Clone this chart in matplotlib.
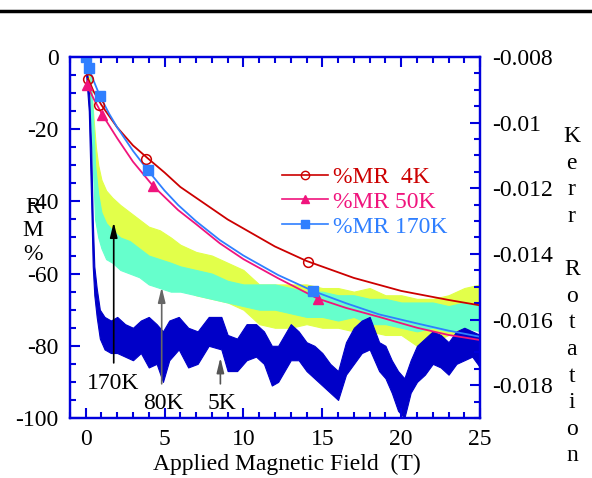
import matplotlib
matplotlib.use('Agg')
import matplotlib.pyplot as plt
from matplotlib.lines import Line2D
from matplotlib.ticker import MultipleLocator, FuncFormatter
import numpy as np

plt.rcParams['font.family'] = ['Liberation Serif', 'DejaVu Serif']
plt.rcParams['axes.unicode_minus'] = False

# --- %MR fitted curves (left axis) ---
fit_4k_x = [0.15, 0.5, 1, 2, 3, 4, 5, 6, 7, 8, 9, 10, 11, 12, 14, 17, 20, 23, 25]
fit_4k_y = [-6, -9.5, -13.3, -19.5, -24.5, -28.3, -32, -36, -39, -42, -45, -47.5,
            -50, -52.5, -56.5, -61.2, -64.8, -67.3, -68.8]
fit_50k_x = [0.1, 0.5, 1.06, 2, 3, 4.25, 5.86, 7, 8.5, 10, 12.2, 14.7, 16.5, 18.6, 21, 23, 25]
fit_50k_y = [-7.8, -11.5, -16, -22.5, -29, -35.6, -42.4, -46.3, -51.6, -56, -61.3,
             -66.9, -69.5, -72, -75, -77, -78.4]
fit_170k_x = [0, 0.2, 0.5, 0.9, 1.5, 2, 3, 3.93, 5, 5.86, 7, 8.5, 10, 12.2, 14.4,
              16.5, 18.6, 21, 23, 25]
fit_170k_y = [-0.1, -3.1, -6.5, -10.8, -15.8, -19.5, -26, -31.3, -37, -41, -45.5,
              -50.7, -55, -60.4, -64.8, -68.2, -71.3, -73.8, -75.8, -77.5]

# measured %MR points
pts_4k_x = [0.15, 0.85, 3.8, 14.1]
pts_4k_y = [-6.1, -13.3, -28.3, -56.8]
pts_50k_x = [0.1, 1.06, 4.25, 14.7]
pts_50k_y = [-7.8, -16, -35.6, -66.9]
pts_170k_x = [0.04, 0.2, 0.9, 3.93, 14.4]
pts_170k_y = [-0.1, -3.1, -10.8, -31.3, -64.8]

# --- Kerr rotation traces (right axis), values in units of 1e-3 ---
kerr_5k_x = [0, 0.2, 0.35, 0.45, 0.55, 0.7, 0.9, 1.2, 1.6, 2.0, 2.5, 3.0, 3.5, 4.0,
             4.5, 4.9, 5.3, 5.9, 6.5, 7.1, 7.8, 8.6, 9.0, 9.6, 10.2, 10.8, 11.3,
             11.8, 12.2, 12.6, 13.0, 13.5, 14.0, 14.5, 15.0, 15.5, 16.0, 16.5,
             17.0, 17.5, 18.0, 18.6, 19.0, 19.4, 19.8, 20.2, 20.6, 21.0, 21.5,
             22.0, 22.5, 23.0, 23.5, 24.0, 24.5, 25.0]
kerr_5k_hi = [-8.11, -8.88, -10.75, -12.95, -14.38, -15.04, -15.70, -15.92, -16.03,
              -15.92, -16.14, -16.25, -16.03, -15.92, -16.14, -16.36, -16.03, -15.92,
              -16.25, -16.36, -15.92, -15.92, -16.47, -16.58, -16.14, -16.14, -16.36,
              -16.80, -16.80, -16.47, -16.14, -16.36, -16.69, -16.80, -17.02, -17.35,
              -17.57, -16.69, -16.25, -16.03, -15.92, -16.69, -16.80, -17.24, -17.57,
              -17.79, -17.24, -16.80, -16.58, -16.36, -16.47, -16.69, -16.36, -16.25,
              -16.36, -16.47]
kerr_5k_lo = [-8.33, -9.65, -12.40, -14.38, -15.26, -15.92, -16.58, -16.91, -17.02,
              -17.02, -17.13, -17.24, -17.02, -17.46, -17.35, -17.90, -17.24, -16.91,
              -17.46, -17.35, -16.80, -16.91, -17.57, -17.57, -17.24, -17.13, -17.35,
              -18.01, -17.90, -17.57, -17.24, -17.24, -17.57, -17.79, -18.01, -18.23,
              -18.45, -17.68, -17.35, -17.02, -16.91, -17.57, -17.79, -18.23, -18.78,
              -19.00, -18.23, -17.90, -17.68, -17.35, -17.46, -17.68, -17.35, -17.24,
              -17.13, -17.46]

kerr_170k_x = [0.2, 0.35, 0.5, 0.65, 0.8, 1.0, 1.3, 1.7, 2.2, 2.8, 3.4, 4.0, 4.7, 5.4,
               6.0, 7.0, 8.0, 9.0, 10.0, 11.0, 12.0, 13.0, 14.0, 15.0, 16.0, 17.0,
               18.0, 19.0, 20.0, 21.0, 22.0, 23.0, 24.0, 25.0]
kerr_170k_hi = [-8.22, -8.88, -9.87, -10.75, -11.30, -11.74, -12.07, -12.29, -12.51,
                -12.73, -12.95, -13.17, -13.28, -13.50, -13.72, -13.94, -14.05, -14.27,
                -14.49, -14.93, -14.93, -14.93, -14.93, -15.04, -15.04, -15.15, -15.04,
                -15.26, -15.26, -15.37, -15.37, -15.26, -15.04, -14.93]
kerr_170k_lo = [-8.66, -9.76, -11.30, -12.18, -12.62, -12.95, -13.28, -13.50, -13.72,
                -13.94, -14.16, -14.38, -14.60, -14.82, -15.04, -15.26, -15.37, -15.48,
                -15.70, -16.14, -16.25, -16.25, -16.14, -16.25, -16.25, -16.36, -16.36,
                -16.47, -16.47, -16.80, -16.69, -16.47, -16.36, -16.14]

kerr_80k_x = [0.3, 0.45, 0.6, 0.8, 1.0, 1.3, 1.7, 2.2, 2.8, 3.4, 4.0, 4.7, 5.4, 6.0,
              7.0, 8.0, 9.0, 10.0, 11.0, 12.0, 13.0, 14.0, 15.0, 16.0, 17.0, 18.0,
              19.0, 20.0, 21.0, 22.0, 23.0, 24.0, 25.0]
kerr_80k_hi = [-8.55, -9.65, -11.30, -12.18, -12.73, -13.06, -13.28, -13.50, -13.61,
               -13.83, -14.05, -14.16, -14.27, -14.38, -14.49, -14.60, -14.82, -14.93,
               -14.93, -14.93, -15.04, -15.15, -15.15, -15.26, -15.26, -15.37, -15.37,
               -15.48, -15.48, -15.48, -15.59, -15.48, -15.59]
kerr_80k_lo = [-9.32, -11.30, -12.95, -13.50, -13.83, -14.16, -14.27, -14.49, -14.60,
               -14.71, -14.93, -15.04, -15.15, -15.15, -15.26, -15.37, -15.48, -15.59,
               -15.70, -15.70, -15.81, -15.92, -15.92, -16.03, -15.92, -16.14, -16.14,
               -16.25, -16.36, -16.25, -16.36, -16.25, -16.36]

c4 = '#cc0000'
c50 = '#f0147d'
c170 = '#2f7fff'
c5k = '#0000c8'
c80k = '#66ffcc'
c170k_kerr = '#e2ff4a'
axis_blue = '#0000dd'
fs = 17

fig = plt.figure(figsize=(5.92, 4.78), dpi=100)
ax = fig.add_axes([0.118, 0.1255, 0.693, 0.7553])
ax2 = ax.twinx()

# Kerr traces drawn behind the %MR curves
for xs, hi, lo, col in [(kerr_170k_x, kerr_170k_hi, kerr_170k_lo, c170k_kerr),
                        (kerr_80k_x, kerr_80k_hi, kerr_80k_lo, c80k),
                        (kerr_5k_x, kerr_5k_hi, kerr_5k_lo, c5k)]:
    hi_a = np.array(hi) * 1e-3
    lo_a = np.array(lo) * 1e-3
    ax2.fill_between(xs, hi_a, lo_a, color=col, lw=0.8, edgecolor=col)

ax.set_zorder(ax2.get_zorder() + 1)
ax.patch.set_visible(False)

ax.plot(fit_4k_x, fit_4k_y, color=c4, lw=1.3)
ax.plot(fit_50k_x, fit_50k_y, color=c50, lw=1.3)
ax.plot(fit_170k_x, fit_170k_y, color=c170, lw=1.3)
ax.plot(pts_4k_x, pts_4k_y, 'o', ms=7, mfc='none', mec=c4, mew=1.1)
ax.plot(pts_50k_x, pts_50k_y, '^', ms=7, color=c50)
ax.plot(pts_170k_x, pts_170k_y, 's', ms=7, color=c170)

handles = [Line2D([], [], color=c4, lw=1.2, marker='o', ms=6, mfc='none', mec=c4),
           Line2D([], [], color=c50, lw=1.2, marker='^', ms=6),
           Line2D([], [], color=c170, lw=1.2, marker='s', ms=6)]
leg = ax.legend(handles, ['%MR  4K', '%MR 50K', '%MR 170K'], loc='upper left',
                bbox_to_anchor=(0.476, 0.652), bbox_transform=fig.transFigure,
                frameon=False, fontsize=fs, handlelength=1.95, handletextpad=0.21,
                labelspacing=0.14, borderpad=0, borderaxespad=0)
for t, c in zip(leg.get_texts(), [c4, c50, c170]):
    t.set_color(c)

# arrows and labels
ax.annotate('', xy=(1.78, -45), xytext=(1.78, -85.5),
            arrowprops=dict(arrowstyle='-|>,head_length=0.9,head_width=0.22',
                            color='black', lw=1.2))
ax.annotate('', xy=(4.82, -63), xytext=(4.82, -91.3),
            arrowprops=dict(arrowstyle='-|>,head_length=0.9,head_width=0.22',
                            color='#666666', lw=1.2))
ax.annotate('', xy=(8.54, -82.5), xytext=(8.54, -91.3),
            arrowprops=dict(arrowstyle='-|>,head_length=0.9,head_width=0.22',
                            color='#555555', lw=1.2))
ax.text(1.72, -90.5, '170K', ha='center', va='center', fontsize=fs)
ax.text(4.92, -96, '80K', ha='center', va='center', fontsize=fs)
ax.text(8.64, -96, '5K', ha='center', va='center', fontsize=fs)

ax.set_xlim(-1, 25)
ax.set_ylim(-100, 0)
ax2.set_ylim(-0.019, -0.008)

ax.xaxis.set_major_locator(MultipleLocator(5))
ax.xaxis.set_minor_locator(MultipleLocator(1))
ax.yaxis.set_major_locator(MultipleLocator(20))
ax.yaxis.set_minor_locator(MultipleLocator(5))
ax2.yaxis.set_major_locator(MultipleLocator(0.002))
ax2.yaxis.set_minor_locator(MultipleLocator(0.0005))
ax2.yaxis.set_major_formatter(FuncFormatter(lambda v, p: f'{v:g}'))

ax.tick_params(which='both', direction='in', color=axis_blue, width=1.5,
               top=True, right=False, labelsize=fs, pad=8)
ax.tick_params(which='major', length=7)
ax.tick_params(which='minor', length=4)
ax2.tick_params(which='both', direction='in', color=axis_blue, width=1.5,
                labelsize=fs, pad=9)
ax2.tick_params(which='major', length=7)
ax2.tick_params(which='minor', length=4)

for a in (ax, ax2):
    for s in a.spines.values():
        s.set_color(axis_blue)
        s.set_linewidth(1.6)

ax.set_xlabel('Applied Magnetic Field  (T)', fontsize=fs)
ax.xaxis.set_label_coords(0.529, -0.100)

fig.text(0.056, 0.517, 'R\nM\n%', ha='center', va='center', fontsize=fs,
         linespacing=1.14)
fig.text(0.966, 0.380, 'K\ne\nr\nr\n\nR\no\nt\na\nt\ni\no\nn', ha='center',
         va='center', fontsize=fs, linespacing=1.35)

fig.add_artist(Line2D([0, 1], [0.978, 0.978], color='black', lw=2.5,
                      transform=fig.transFigure))

fig.savefig('out.png', dpi=100)
